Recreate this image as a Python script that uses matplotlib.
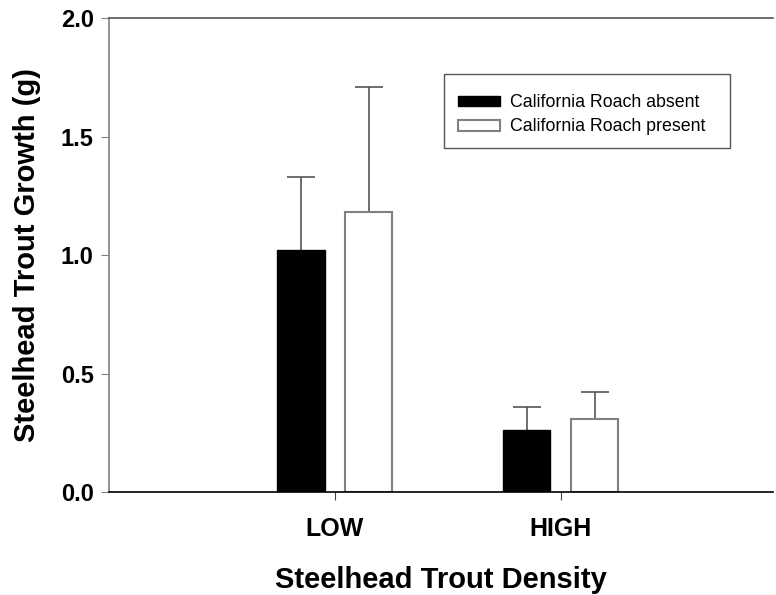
import matplotlib.pyplot as plt
import numpy as np
from matplotlib.patches import Rectangle

plt.rcParams['font.family'] = ['Liberation Sans', 'DejaVu Sans']

# trout growth by density, with and without roach
densities = ['LOW', 'HIGH']
absent_mean = [1.02, 0.26]
absent_err = [0.31, 0.10]
present_mean = [1.18, 0.31]
present_err = [0.53, 0.11]

x = np.array([1.0, 2.0])
width = 0.21
offset = 0.15

fig = plt.figure(figsize=(7.76, 5.95), dpi=100)
ax = fig.add_axes([0.1405, 0.1731, 0.8555, 0.7966])

ax.bar(x - offset, absent_mean, width, color='black', edgecolor='black',
       linewidth=1, label='California Roach absent', zorder=2)
ax.bar(x + offset, present_mean, width, color='white', edgecolor='#808080',
       linewidth=1.5, label='California Roach present', zorder=2)

# upper error bars only (stem + cap at the top)
for xs, m, e in [(x - offset, absent_mean, absent_err), (x + offset, present_mean, present_err)]:
    m = np.array(m)
    e = np.array(e)
    ax.vlines(xs, m, m + e, color='#555555', linewidth=1.2, zorder=1)
    ax.plot(xs, m + e, linestyle='none', marker='_', markersize=20,
            markeredgewidth=1.2, color='#555555', zorder=1)

ax.set_xlim(0.0, 2.94)
ax.set_ylim(0, 2.0)
ax.set_xticks(x)
ax.set_xticklabels(densities, fontsize=18, fontweight='bold')
ax.set_yticks([0.0, 0.5, 1.0, 1.5, 2.0])
ax.set_yticklabels(['0.0', '0.5', '1.0', '1.5', '2.0'], fontsize=17, fontweight='bold')
ax.tick_params(axis='y', direction='out', length=6, color='#808080', pad=5)
ax.tick_params(axis='x', direction='out', length=6, color='#444444', pad=12)

ax.spines['right'].set_visible(False)
ax.spines['left'].set_color('#808080')
ax.spines['top'].set_color('#555555')
ax.spines['bottom'].set_color('black')
for s in ['left', 'top', 'bottom']:
    ax.spines[s].set_linewidth(1.2)

ax.set_xlabel('Steelhead Trout Density', fontsize=21, fontweight='bold', labelpad=18)
ax.set_ylabel('Steelhead Trout Growth (g)', fontsize=21, fontweight='bold', labelpad=14)

# legend frame drawn separately so the padding can be set freely
ax.add_patch(Rectangle((0.5045, 0.7257), 0.4307, 0.1561, transform=ax.transAxes,
                       facecolor='white', edgecolor='#555555', linewidth=1.0, zorder=3))
leg = ax.legend(loc='upper left', bbox_to_anchor=(0.5256, 0.839),
                fontsize=12.8, frameon=False, borderpad=0,
                handlelength=2.36, handleheight=0.56, handletextpad=0.56,
                labelspacing=0.4, borderaxespad=0)
leg.set_zorder(4)

fig.savefig('out.png', dpi=100)
